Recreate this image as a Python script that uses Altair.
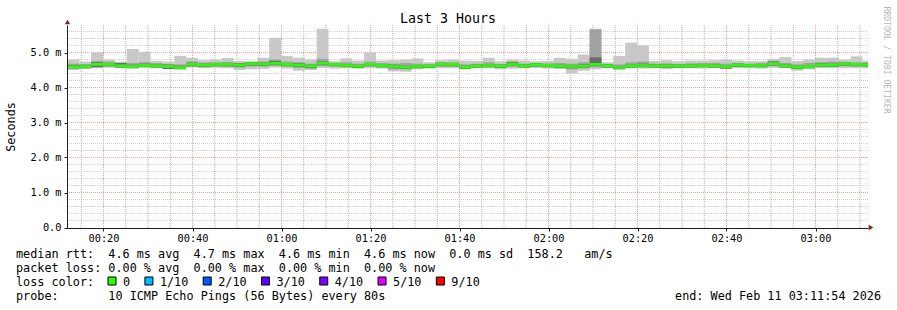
import altair as alt
import pandas as pd

# ---------------- data ----------------
END_MIN = 191.9       # 03:11:54 (graph end)
SPAN_MIN = 180        # last 3 hours
STEP_MIN = 160 / 60   # one smoke column

hi = [4.80, 4.74, 5.00, 4.80, 4.74, 5.10, 5.02, 4.76, 4.74, 4.90,
      4.85, 4.78, 4.80, 4.84, 4.76, 4.75, 4.85, 5.42, 4.90, 4.85,
      4.80, 5.68, 4.75, 4.83, 4.77, 5.00, 4.77, 4.78, 4.80, 4.83,
      4.72, 4.78, 4.80, 4.77, 4.76, 4.85, 4.75, 4.80, 4.77, 4.75,
      4.76, 4.85, 4.82, 4.94, 5.68, 4.72, 4.90, 5.28, 5.20, 4.76,
      4.78, 4.75, 4.77, 4.77, 4.78, 4.80, 4.77, 4.75, 4.75, 4.82,
      4.87, 4.76, 4.80, 4.85, 4.85, 4.80, 4.89, 4.76]
lo = [4.50, 4.53, 4.55, 4.56, 4.56, 4.55, 4.57, 4.56, 4.55, 4.53,
      4.57, 4.55, 4.56, 4.55, 4.50, 4.52, 4.53, 4.57, 4.54, 4.48,
      4.50, 4.56, 4.54, 4.55, 4.54, 4.55, 4.54, 4.46, 4.45, 4.52,
      4.54, 4.55, 4.55, 4.52, 4.55, 4.55, 4.52, 4.54, 4.55, 4.56,
      4.54, 4.53, 4.40, 4.48, 4.52, 4.55, 4.52, 4.55, 4.54, 4.55,
      4.52, 4.55, 4.55, 4.54, 4.55, 4.53, 4.55, 4.55, 4.54, 4.56,
      4.55, 4.48, 4.52, 4.55, 4.55, 4.55, 4.55, 4.55]
mid_hi = [4.68, 4.66, 4.76, 4.74, 4.68, 4.70, 4.72, 4.70, 4.67, 4.66,
          4.74, 4.71, 4.72, 4.73, 4.70, 4.73, 4.74, 4.80, 4.74, 4.72,
          4.68, 4.82, 4.71, 4.72, 4.68, 4.74, 4.70, 4.68, 4.70, 4.68,
          4.66, 4.73, 4.72, 4.66, 4.68, 4.72, 4.67, 4.74, 4.68, 4.70,
          4.69, 4.70, 4.68, 4.72, 5.66, 4.67, 4.66, 4.72, 4.74, 4.68,
          4.69, 4.67, 4.69, 4.70, 4.70, 4.68, 4.70, 4.68, 4.70, 4.76,
          4.70, 4.66, 4.70, 4.72, 4.74, 4.73, 4.72, 4.71]
mid_lo = [4.54, 4.56, 4.59, 4.60, 4.58, 4.56, 4.59, 4.58, 4.57, 4.55,
          4.60, 4.58, 4.60, 4.59, 4.57, 4.60, 4.60, 4.62, 4.60, 4.56,
          4.55, 4.61, 4.60, 4.58, 4.57, 4.60, 4.58, 4.52, 4.52, 4.56,
          4.57, 4.60, 4.59, 4.55, 4.58, 4.58, 4.56, 4.60, 4.58, 4.60,
          4.58, 4.57, 4.52, 4.55, 4.58, 4.58, 4.55, 4.58, 4.58, 4.58,
          4.57, 4.57, 4.58, 4.58, 4.58, 4.56, 4.59, 4.59, 4.58, 4.61,
          4.58, 4.53, 4.56, 4.60, 4.59, 4.61, 4.60, 4.60]
dark_hi = [4.64, 4.65, 4.72, 4.70, 4.70, 4.65, 4.68, 4.66, 4.65, 4.62,
           4.71, 4.68, 4.70, 4.70, 4.69, 4.72, 4.71, 4.76, 4.70, 4.69,
           4.65, 4.74, 4.70, 4.67, 4.65, 4.70, 4.67, 4.65, 4.62, 4.64,
           4.65, 4.70, 4.70, 4.62, 4.66, 4.67, 4.65, 4.72, 4.66, 4.69,
           4.67, 4.65, 4.64, 4.66, 4.86, 4.66, 4.61, 4.66, 4.68, 4.66,
           4.66, 4.65, 4.66, 4.67, 4.66, 4.64, 4.68, 4.67, 4.67, 4.74,
           4.66, 4.62, 4.64, 4.70, 4.68, 4.71, 4.70, 4.70]
dark_lo = [4.55, 4.55, 4.58, 4.61, 4.57, 4.55, 4.58, 4.57, 4.53, 4.52,
           4.61, 4.59, 4.61, 4.61, 4.59, 4.63, 4.62, 4.64, 4.61, 4.59,
           4.55, 4.64, 4.61, 4.58, 4.56, 4.61, 4.58, 4.55, 4.53, 4.55,
           4.56, 4.61, 4.61, 4.53, 4.57, 4.58, 4.56, 4.61, 4.57, 4.60,
           4.58, 4.56, 4.55, 4.56, 4.61, 4.57, 4.52, 4.57, 4.58, 4.57,
           4.57, 4.56, 4.57, 4.58, 4.57, 4.54, 4.59, 4.58, 4.58, 4.63,
           4.57, 4.53, 4.55, 4.60, 4.59, 4.62, 4.61, 4.60]
median = [4.59, 4.60, 4.66, 4.66, 4.62, 4.60, 4.63, 4.62, 4.60, 4.57,
          4.66, 4.64, 4.66, 4.66, 4.64, 4.68, 4.67, 4.69, 4.66, 4.64,
          4.61, 4.69, 4.66, 4.63, 4.61, 4.66, 4.63, 4.60, 4.58, 4.60,
          4.61, 4.66, 4.66, 4.58, 4.62, 4.63, 4.61, 4.66, 4.62, 4.65,
          4.63, 4.61, 4.60, 4.61, 4.66, 4.62, 4.57, 4.62, 4.63, 4.62,
          4.62, 4.61, 4.62, 4.63, 4.62, 4.60, 4.64, 4.63, 4.63, 4.68,
          4.62, 4.58, 4.60, 4.65, 4.64, 4.67, 4.66, 4.65]

y_major = [0, 1, 2, 3, 4, 5]
y_minor = [0.2, 0.4, 0.6, 0.8, 1.2, 1.4, 1.6, 1.8, 2.2, 2.4, 2.6, 2.8,
           3.2, 3.4, 3.6, 3.8, 4.2, 4.4, 4.6, 4.8, 5.2, 5.4, 5.6]
x_major = [20, 40, 60, 80, 100, 120, 140, 160, 180]
x_minor = [15, 25, 30, 35, 45, 50, 55, 65, 70, 75, 85, 90, 95, 105, 110, 115,
           125, 130, 135, 145, 150, 155, 165, 170, 175, 185, 190]

loss_labels = ["0", "1/10", "2/10", "3/10", "4/10", "5/10", "9/10"]
loss_colors = ["#26ff00", "#00b8ff", "#0059ff", "#5e00ff", "#7e00ff", "#dd00ff", "#ff0000"]

title_text = "Last 3 Hours"
y_title = "Seconds"
line_rtt = "median rtt:  4.6 ms avg  4.7 ms max  4.6 ms min  4.6 ms now  0.0 ms sd  158.2   am/s"
line_loss = "packet loss: 0.00 % avg  0.00 % max  0.00 % min  0.00 % now"
line_color = "loss color:"
line_probe = "probe:       10 ICMP Echo Pings (56 Bytes) every 80s"
end_text = "end: Wed Feb 11 03:11:54 2026"
watermark = "RRDTOOL / TOBI OETIKER"

# ---------------- layout ----------------
PL, PT = 67, 25          # plot origin in page pixels
W, H = 801, 203
PX_PER_MS = 35           # vertical scale, whole pixels per ms
FONT = "DejaVu Sans Mono"
CW = 7.12                # legend char advance

# pixel-snapped domains so the dotted grid lines fall on pixel centres
px_per_min = W / SPAN_MIN
x_lo = 20 - 36.5 / px_per_min
x_hi = x_lo + SPAN_MIN
y_lo = -0.5 / PX_PER_MS
y_hi = y_lo + H / PX_PER_MS

START_MIN = END_MIN - SPAN_MIN
n = len(median)
t0 = [START_MIN + i * STEP_MIN for i in range(n)]
t1 = [min(t + STEP_MIN, END_MIN) for t in t0]
df = pd.DataFrame(dict(t0=t0, t1=t1, hi=hi, lo=lo, mhi=mid_hi, mlo=mid_lo,
                       dhi=dark_hi, dlo=dark_lo, med=median))

xs = alt.Scale(domain=[x_lo, x_hi], nice=False, zero=False)
ys = alt.Scale(domain=[y_lo, y_hi], nice=False, zero=False)

X_AX = alt.Axis(values=x_major, title=None, grid=False, tickSize=3, tickColor="#1f1f1f",
                domainColor="#1f1f1f", labelFont=FONT, labelFontSize=10.3, labelColor="#000",
                labelPadding=2, zindex=1,
                labelExpr="format(floor(datum.value/60),'02d') + ':' + format(datum.value % 60,'02d')")
Y_AX = alt.Axis(values=y_major, title=None, grid=False, tickSize=3, tickColor="#1f1f1f",
                domainColor="#1f1f1f", labelFont=FONT, labelFontSize=10.3, labelColor="#000",
                labelPadding=3, zindex=1,
                labelExpr="datum.value == 0 ? '0.0' : format(datum.value, '.1f') + ' m'")

def hgrid(vals, color):
    return alt.Chart(pd.DataFrame({"v": vals})).mark_rule(
        stroke=color, strokeWidth=1, strokeDash=[1, 1]).encode(
        y=alt.Y("v:Q", scale=ys, axis=Y_AX))

def vgrid(vals, color):
    return alt.Chart(pd.DataFrame({"v": vals})).mark_rule(
        stroke=color, strokeWidth=1, strokeDash=[1, 1]).encode(
        x=alt.X("v:Q", scale=xs, axis=X_AX))

grid = [hgrid(y_minor, "#d2d2d2"), vgrid(x_minor, "#b4b4b4"),
        hgrid(y_major[1:], "#f59a9a"), vgrid(x_major, "#f59a9a")]

base = alt.Chart(df)

def band(lo_f, hi_f, color):
    return base.mark_rect(color=color, clip=True).encode(
        x=alt.X("t0:Q", scale=xs, axis=X_AX), x2="t1:Q",
        y=alt.Y(f"{lo_f}:Q", scale=ys, axis=Y_AX), y2=f"{hi_f}:Q")

light = band("lo", "hi", "#c8c8c8")
mid = band("mlo", "mhi", "#a2a2a2")
dark = band("dlo", "dhi", "#6a6a6a")
green = base.transform_calculate(a="datum.med - 0.04", b="datum.med + 0.04").mark_rect(
    color="#26ff00", clip=True).encode(
    x=alt.X("t0:Q", scale=xs, axis=X_AX), x2="t1:Q",
    y=alt.Y("a:Q", scale=ys, axis=Y_AX), y2="b:Q")

def text(s, x, y, size=11.8, align="left", baseline="alphabetic", angle=0, color="#000"):
    return alt.Chart(pd.DataFrame({"s": [s.replace(" ", "\u00a0")]})).mark_text(
        font=FONT, fontSize=size, align=align, baseline=baseline, angle=angle, color=color).encode(
        text="s:N", x=alt.value(x - PL), y=alt.value(y - PT))

texts = [
    text(title_text, 448, 19, size=13.3, align="center", baseline="middle"),
    text(y_title, 11, 127, align="center", baseline="middle", angle=270),
    text(watermark, 886, 60, size=8.1, align="center", baseline="middle", angle=90, color="#b8b8b8"),
    text(line_rtt, 16, 257.5),
    text(line_loss, 16, 271.5),
    text(line_color, 16, 285.5),
    text(line_probe, 16, 299.5),
    text(end_text, 881, 299.5, align="right"),
]

# loss colour legend
bx, xs_box = 108.0, []
for lab in loss_labels:
    xs_box.append(bx)
    bx += 29.8 + len(lab) * CW
leg = pd.DataFrame({"lab": loss_labels, "col": loss_colors,
                    "x": [x - PL for x in xs_box], "x2": [x + 8 - PL for x in xs_box],
                    "tx": [x + 15 - PL for x in xs_box]})
leg["y"] = 277 - PT
leg["y2"] = 285 - PT
leg["ty"] = 285.5 - PT
boxes = alt.Chart(leg).mark_rect(stroke="#000", strokeWidth=1).encode(
    x=alt.X("x:Q", scale=None), x2="x2:Q", y=alt.Y("y:Q", scale=None), y2="y2:Q",
    fill=alt.Fill("col:N", scale=None))
box_labels = alt.Chart(leg).mark_text(font=FONT, fontSize=11.8, align="left",
                                      baseline="alphabetic").encode(
    x=alt.X("tx:Q", scale=None), y=alt.Y("ty:Q", scale=None), text="lab:N")

# arrows
arrows = alt.Chart(pd.DataFrame({"px": [0.5, W + 3], "py": [-3, H - 0.5],
                                 "shp": ["triangle-up", "triangle-right"]})).mark_point(
    filled=True, color="#7f1f1f", size=28, opacity=1).encode(
    x=alt.X("px:Q", scale=None), y=alt.Y("py:Q", scale=None), shape=alt.Shape("shp:N", scale=None))

chart = alt.layer(*grid, light, mid, dark, green, *texts, boxes, box_labels, arrows).properties(
    width=W, height=H,
    padding={"left": PL, "top": PT, "right": 897 - PL - W, "bottom": 310 - PT - H},
    autosize=alt.AutoSizeParams(type="none"),
    background="white",
).configure_view(stroke=None)

chart.save("out.html", embed_options={"renderer": "svg", "actions": False})
